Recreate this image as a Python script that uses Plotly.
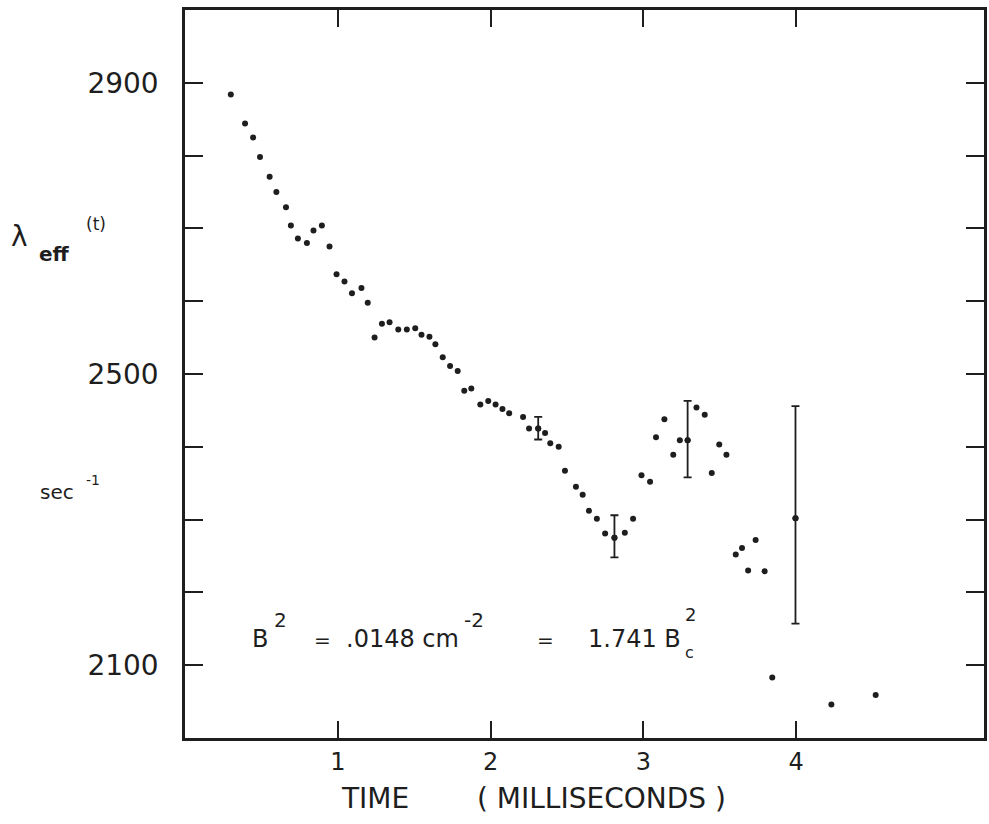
import plotly.graph_objects as go

# ---- data ----
time_ms = [0.300, 0.393, 0.446, 0.491, 0.554, 0.598, 0.661, 0.693, 0.739, 0.798,
           0.841, 0.896, 0.946, 0.992, 1.044, 1.093, 1.155, 1.196, 1.241, 1.289,
           1.339, 1.396, 1.452, 1.507, 1.548, 1.600, 1.639, 1.687, 1.735, 1.785,
           1.828, 1.874, 1.933, 1.985, 2.033, 2.078, 2.122, 2.213, 2.252, 2.312,
           2.357, 2.391, 2.446, 2.487, 2.559, 2.603, 2.644, 2.696, 2.750, 2.811,
           2.879, 2.933, 2.988, 3.044, 3.083, 3.138, 3.196, 3.239, 3.290, 3.348,
           3.402, 3.448, 3.497, 3.544, 3.605, 3.646, 3.686, 3.735, 3.794, 3.844,
           3.996, 4.231, 4.521]
lambda_eff = [2884, 2844, 2825, 2798, 2771, 2750, 2729, 2704, 2686, 2680,
              2697, 2704, 2675, 2637, 2627, 2611, 2618, 2598, 2550, 2569,
              2571, 2561, 2561, 2563, 2554, 2551, 2541, 2523, 2511, 2504,
              2477, 2480, 2458, 2463, 2458, 2452, 2446, 2441, 2425, 2425,
              2419, 2405, 2400, 2367, 2345, 2334, 2312, 2301, 2281, 2275,
              2282, 2301, 2361, 2352, 2413, 2438, 2389, 2409, 2409, 2454,
              2444, 2364, 2403, 2389, 2252, 2261, 2230, 2272, 2229, 2083,
              2302, 2046, 2059]

err_time = [2.312, 2.811, 3.290, 3.996]
err_lambda = [2425, 2275, 2409, 2302]
err_plus = [16, 31, 54, 154]
err_minus = [15, 27, 51, 145]

y_tick_vals = [2100, 2200, 2300, 2400, 2500, 2600, 2700, 2800, 2900]
y_tick_text = ["2100", "", "", "", "2500", "", "", "", "2900"]
x_tick_vals = [1, 2, 3, 4]
x_tick_text = ["1", "2", "3", "4"]

INK = "#1e1e1e"
FONT = "DejaVu Sans"

W, H = 989, 824
ML, MR, MT, MB = 185, 2, 10, 86
PW, PH = W - ML - MR, H - MT - MB


def px(x):
    return (x - ML) / PW


def py(y):
    return (H - MB - y) / PH


fig = go.Figure()
fig.add_trace(go.Scatter(
    x=time_ms, y=lambda_eff, mode="markers",
    marker=dict(size=6, color=INK), showlegend=False, hoverinfo="x+y"))
fig.add_trace(go.Scatter(
    x=err_time, y=err_lambda, mode="markers",
    marker=dict(size=6, color=INK), showlegend=False,
    error_y=dict(type="data", symmetric=False, array=err_plus,
                 arrayminus=err_minus, color=INK, thickness=1.8, width=4)))

annotations = []


def txt(s, x, y, size, xanchor="left", yanchor="middle"):
    annotations.append(dict(text=s, x=px(x), y=py(y), xref="paper", yref="paper",
                            xanchor=xanchor, yanchor=yanchor, showarrow=False,
                            font=dict(family=FONT, size=size, color=INK)))


# y-axis label pieces
txt("λ", 8, 236, 28)
txt("<b>eff</b>", 36, 254, 20)
txt("(t)", 84, 224, 17)
txt("sec", 37, 492, 20)
txt("-1", 84, 480, 14)

# equation inside the plot
txt("B", 250, 639, 24)
txt("2", 272, 620, 20)
txt("=", 312, 640, 20)
txt(".0148 cm", 345, 639, 24)
txt("-2", 463, 620, 20)
txt("=", 536, 640, 20)
txt("1.741 B", 588, 639, 24)
txt("c", 685, 652, 16)
txt("2", 685, 614, 18)

# x-axis title
txt("TIME", 340, 798, 28)
txt("( MILLISECONDS )", 476, 798, 28)

fig.update_layout(
    width=W, height=H,
    margin=dict(l=ML, r=MR, t=MT, b=MB, pad=0),
    paper_bgcolor="white", plot_bgcolor="white",
    font=dict(family=FONT, color=INK),
    annotations=annotations,
    xaxis=dict(range=[0, 5.23], tickvals=x_tick_vals, ticktext=x_tick_text,
               ticks="inside", ticklen=17, tickwidth=2, tickcolor=INK,
               showline=True, linewidth=2.5, linecolor=INK, mirror="ticks",
               showgrid=False, zeroline=False,
               tickfont=dict(family=FONT, size=24, color=INK)),
    yaxis=dict(range=[2000, 3000], tickvals=y_tick_vals, ticktext=y_tick_text,
               ticks="inside", ticklen=18, tickwidth=2, tickcolor=INK,
               showline=True, linewidth=2.5, linecolor=INK, mirror="ticks",
               showgrid=False, zeroline=False, ticklabelstandoff=18,
               tickfont=dict(family=FONT, size=28, color=INK)),
)

fig.write_html("out.html")
